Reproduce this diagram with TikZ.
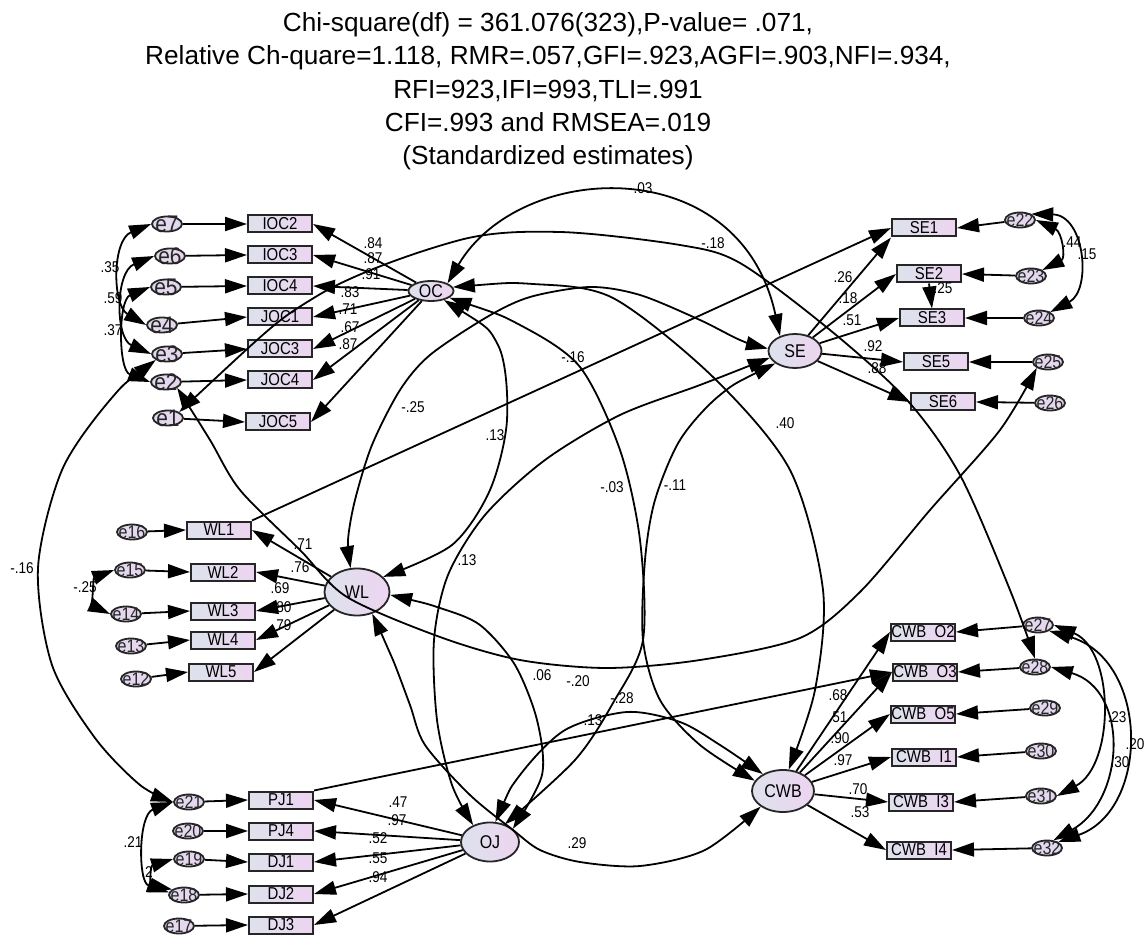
\documentclass[tikz,border=0pt]{standalone}
\usepackage{fontspec}
\setmainfont{Liberation Sans}[FakeStretch=0.87]
\newfontfamily\titlefont{Liberation Sans}
\usetikzlibrary{shapes.geometric,arrows.meta}
\definecolor{boxL}{HTML}{DDE2EC}
\definecolor{boxR}{HTML}{EDD4F1}
\definecolor{errfill}{HTML}{E5D5EE}
\definecolor{ink}{HTML}{262626}
% error ellipse plus its caption: name, x, y, font size
\newcommand\errnode[4]{%
  \node[err] (#1) at (#2,#3) {};
  \node[etxt, font=\fontsize{#4}{#4}\selectfont] (t#1) at (#1) {#1};}
\begin{document}
\begin{tikzpicture}[x=0.5pt,y=-0.5pt,
  >={Triangle[length=11pt,width=7pt]},
  obs/.style={draw=ink, line width=1pt, rectangle, minimum width=32pt, minimum height=8.5pt,
    inner sep=0pt, left color=boxL, right color=boxR, font=\fontsize{8.6}{8.6}\selectfont},
  lat/.style={draw=ink, line width=0.9pt, ellipse, inner sep=0pt, left color=boxL,
    right color=boxR, font=\fontsize{9.2}{9.2}\selectfont},
  err/.style={draw=ink, line width=0.9pt, ellipse, minimum width=15pt, minimum height=7.5pt,
    inner sep=0pt, left color=errfill!60!boxL, right color=errfill},
  etxt/.style={inner sep=0pt, text=ink},
  lbl/.style={inner sep=0pt, font=\fontsize{7.8}{7.8}\selectfont},
  ttl/.style={inner sep=0pt, anchor=base, font=\titlefont\fontsize{13.1}{13.1}\selectfont},
  load/.style={line width=0.9pt, ->},
  cov/.style={line width=0.9pt, <->}]
\useasboundingbox (0,0) rectangle (1147,936);

% ---------- fit statistics ----------
\node[ttl] (T1) at (548,31.7) {Chi-square(df) = 361.076(323),P-value= .071,};
\node[ttl] (T2) at (548,65) {Relative Ch-quare=1.118, RMR=.057,GFI=.923,AGFI=.903,NFI=.934,};
\node[ttl] (T3) at (548,98.3) {RFI=923,IFI=993,TLI=.991};
\node[ttl] (T4) at (548,131.7) {CFI=.993 and RMSEA=.019};
\node[ttl] (T5) at (548,165) {(Standardized estimates)};

% ---------- latent variables ----------
\node[lat, minimum width=22.5pt, minimum height=10pt] (OC) at (431,291) {OC};
\node[lat, minimum width=26.5pt, minimum height=17pt] (SE) at (795,351) {SE};
\node[lat, minimum width=32.5pt, minimum height=23.5pt] (WL) at (357,592) {WL};
\node[lat, minimum width=29pt, minimum height=19.5pt] (OJ) at (490,842) {OJ};
\node[lat, minimum width=31pt, minimum height=21pt] (CWB) at (783,791) {CWB};

% ---------- indicators ----------
\node[obs] (IOC2) at (280,224) {IOC2};
\node[obs] (IOC3) at (280,255) {IOC3};
\node[obs] (IOC4) at (280,286) {IOC4};
\node[obs] (JOC1) at (280,317) {JOC1};
\node[obs] (JOC3) at (280,349) {JOC3};
\node[obs] (JOC4) at (280,380) {JOC4};
\node[obs] (JOC5) at (278,422) {JOC5};

\node[obs] (SE1) at (924,228) {SE1};
\node[obs] (SE2) at (929,274) {SE2};
\node[obs] (SE3) at (932,318) {SE3};
\node[obs] (SE5) at (936,362) {SE5};
\node[obs] (SE6) at (943,402) {SE6};

\node[obs] (WL1) at (219,530) {WL1};
\node[obs] (WL2) at (223,572) {WL2};
\node[obs] (WL3) at (223,611) {WL3};
\node[obs] (WL4) at (223,640) {WL4};
\node[obs] (WL5) at (221,672) {WL5};

\node[obs] (PJ1) at (281,800) {PJ1};
\node[obs] (PJ4) at (281,831) {PJ4};
\node[obs] (DJ1) at (281,862) {DJ1};
\node[obs] (DJ2) at (281,894) {DJ2};
\node[obs] (DJ3) at (281,925) {DJ3};

\node[obs] (CWBO2) at (923,632) {CWB\ \ O2};
\node[obs] (CWBO3) at (925,672) {CWB\ \ O3};
\node[obs] (CWBO5) at (923,714) {CWB\ \ O5};
\node[obs] (CWBI1) at (924,757) {CWB\ \ I1};
\node[obs] (CWBI3) at (921,802) {CWB\ \ I3};
\node[obs] (CWBI4) at (919,850) {CWB\ \ I4};

% ---------- error terms ----------
\errnode{e7}{167}{224}{12}
\errnode{e6}{170}{256}{12}
\errnode{e5}{166}{287}{12}
\errnode{e4}{162}{325}{12}
\errnode{e3}{167}{354}{12}
\errnode{e2}{166}{382}{12}
\errnode{e1}{168}{418}{12}
\errnode{e16}{132}{532}{9.2}
\errnode{e15}{130}{570}{9.2}
\errnode{e14}{126}{614}{9.2}
\errnode{e13}{131}{646}{9.2}
\errnode{e12}{136}{679}{9.2}
\errnode{e21}{189}{802}{9.2}
\errnode{e20}{188}{831}{9.2}
\errnode{e19}{189}{859}{9.2}
\errnode{e18}{184}{895}{9.2}
\errnode{e17}{179}{926}{9.2}
\errnode{e22}{1020}{220}{9.2}
\errnode{e23}{1031}{276}{9.2}
\errnode{e24}{1039}{318}{9.2}
\errnode{e25}{1048}{362}{9.2}
\errnode{e26}{1050}{403}{9.2}
\errnode{e27}{1038}{625}{9.2}
\errnode{e28}{1035}{667}{9.2}
\errnode{e29}{1045}{708}{9.2}
\errnode{e30}{1041}{751}{9.2}
\errnode{e31}{1041}{796}{9.2}
\errnode{e32}{1047}{848}{9.2}

% ---------- loadings ----------
\foreach \b in {IOC2,IOC3,IOC4,JOC1,JOC3,JOC4,JOC5} \draw[load] (OC) -- (\b.east);
\draw[load] (SE) -- (SE1.south west);
\foreach \b in {SE2,SE3,SE5,SE6} \draw[load] (SE) -- (\b.west);
\foreach \b in {WL1,WL2,WL3,WL4,WL5} \draw[load] (WL) -- (\b.east);
\foreach \b in {PJ1,PJ4,DJ1,DJ2,DJ3} \draw[load] (OJ) -- (\b.east);
\foreach \b in {CWBO2,CWBO3,CWBO5,CWBI1,CWBI3,CWBI4} \draw[load] (CWB) -- (\b.west);

% ---------- error paths ----------
\foreach \e/\b in {e7/IOC2,e6/IOC3,e5/IOC4,e4/JOC1,e3/JOC3,e2/JOC4,e1/JOC5,
  e16/WL1,e15/WL2,e14/WL3,e13/WL4,e12/WL5,e21/PJ1,e20/PJ4,e19/DJ1,e18/DJ2,e17/DJ3}
  \draw[load] (\e) -- (\b.west);
\foreach \e/\b in {e22/SE1,e23/SE2,e24/SE3,e25/SE5,e26/SE6,
  e27/CWBO2,e28/CWBO3,e29/CWBO5,e30/CWBI1,e31/CWBI3,e32/CWBI4}
  \draw[load] (\e) -- (\b.east);
\draw[load] (SE2.south) -- (SE3.north);
\draw[load] (WL1.north east) -- (SE1.west);
\draw[load] (PJ1.north east) -- (CWBO3.west);

% ---------- covariances between latent variables ----------
\draw[cov] (OC.north east) .. controls (520,160) and (740,150) .. (SE.135);
\draw[cov] plot[smooth] coordinates {(OC.10) (533,284) (613,298) (713,377) (790,470) (823,590) (815,690) (CWB.75)};
\draw[cov] plot[smooth] coordinates {(OC.-35) (498,345) (507,420) (490,490) (452,545) (WL.30)};
\draw[cov] plot[smooth] coordinates {(OC.-20) (520,325) (580,367) (620,450) (640,540) (643,640) (613,703) (575,760) (OJ.50)};
\draw[cov] plot[smooth] coordinates {(SE.175) (740,340) (700,320) (640,295) (590,287) (530,297) (487,317) (430,355) (400,390) (372,445) (355,500) (348,540) (WL.105)};
\draw[cov] plot[smooth] coordinates {(SE.195) (700,385) (620,415) (545,460) (485,515) (448,575) (434,640) (437,720) (452,785) (OJ.135)};
\draw[cov] plot[smooth] coordinates {(SE.212) (720,395) (680,440) (655,500) (645,560) (643,640) (660,700) (700,745) (CWB.160)};
\draw[cov] plot[smooth] coordinates {(WL.-5) (440,608) (480,625) (515,665) (537,720) (542,775) (OJ.30)};
\draw[cov] plot[smooth] coordinates {(WL.-55) (393,660) (410,705) (425,745) (470,795) (513,830) (540,850) (580,862) (640,866) (705,850) (CWB.215)};
\draw[cov] plot[smooth] coordinates {(OJ.75) (520,775) (565,730) (627,712) (680,722) (720,745) (CWB.140)};

% ---------- covariances between error terms ----------
\draw[cov] plot[smooth] coordinates {(e1.north east) (317,296) (460,240) (560,232) (680,245) (740,263) (830,330) (907,400) (960,475) (1010,590) (e28.north)};
\draw[cov] plot[smooth] coordinates {(e2.south east) (210,440) (240,490) (300,550) (347,597) (440,637) (520,660) (607,668) (700,660) (800,638) (860,592) (930,510) (1000,430) (e25.south west)};
\draw[cov] plot[smooth] coordinates {(e3.south west) (110,400) (62,470) (38,568) (52,665) (95,738) (140,785) (e21.west)};
\draw[cov] (e7.west) .. controls (112,240) and (112,305) .. (e4.west);
\draw[cov] (e6.west) .. controls (115,272) and (115,338) .. (e3.west);
\draw[cov] (e5.west) .. controls (118,300) and (118,370) .. (e2.west);
\draw[cov] (e15.west) .. controls (93,578) and (93,606) .. (e14.west);
\draw[cov] (e21.west) .. controls (138,815) and (138,882) .. (e18.170);
\draw[cov] (e19.west) .. controls (150,866) and (150,885) .. (e18.155);
\draw[cov] (e22.east) .. controls (1062,232) and (1066,258) .. (e23.north east);
\draw[cov] (e22.north east) .. controls (1085,215) and (1092,290) .. (e24.north east);
\draw[cov] (e27.east) .. controls (1115,650) and (1115,765) .. (e31.east);
\draw[cov] (e27.south east) .. controls (1150,660) and (1150,810) .. (e32.north east);
\draw[cov] (e28.east) .. controls (1130,690) and (1125,800) .. (e32.50);

% ---------- estimates ----------
\foreach \x/\y/\s [count=\i] in {
  373/243/.84, 373/258/.87, 371/274/.91, 350/292/.83, 348/309/.71, 350/327/.67, 348/344/.87,
  843/277/.26, 848/298/.18, 852/320/.51, 873/346/.92, 877/368/.88,
  303/544/.71, 300/567/.76, 280/588/.69, 282/607/.80, 282/625/.79,
  398/802/.47, 397/820/.97, 378/838/.52, 378/858/.55, 378/877/.94,
  838/695/.68, 838/717/.51, 840/738/.90, 843/760/.97, 858/789/.70, 860/812/.53,
  643/188/.03, 713/243/-.18, 573/357/-.16, 413/407/-.25, 495/435/.13, 785/423/.40,
  612/487/-.03, 675/485/-.11, 467/560/.13, 542/675/.06, 578/681/-.20, 622/698/-.28,
  593/720/.13, 577/843/.29, 22/568/-.16, 110/267/.35, 113/298/.59, 113/330/.37,
  85/587/-.25, 133/842/.21, 147/872/.2, 1072/242/.44, 1087/254/.15, 943/288/.25,
  1117/717/.23, 1135/744/.20, 1120/762/.30}
  \node[lbl] (L\i) at (\x,\y) {\s};
\end{tikzpicture}
\end{document}
